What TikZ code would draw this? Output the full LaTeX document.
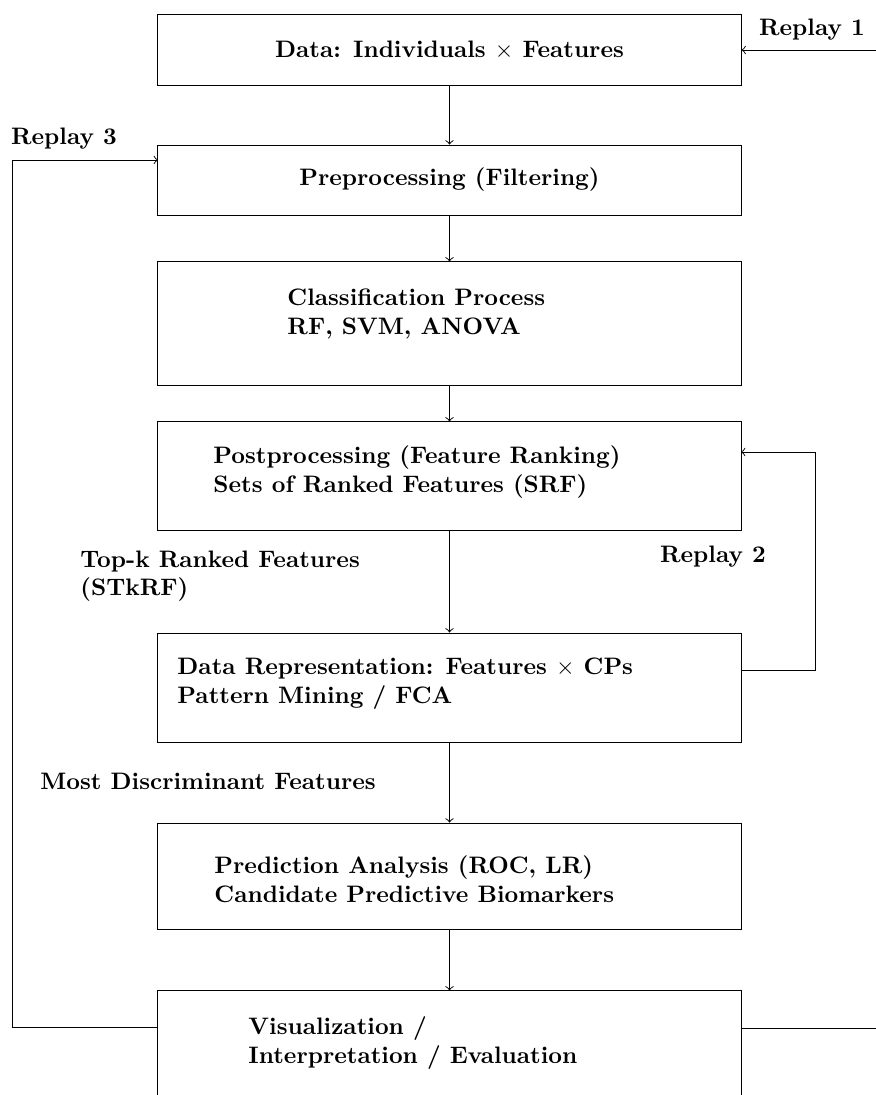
\documentclass[tikz,border=0pt]{standalone}
\usepackage{tikz}
\usetikzlibrary{arrows}

\begin{document}
\begin{tikzpicture}[x=0.42pt,y=-0.42pt,>=to,
    box/.style={draw=black,minimum width=244.9pt,inner sep=0pt,font=\bfseries},
    txt/.style={font=\bfseries,align=left,anchor=west,inner sep=0pt},
    lbl/.style={font=\bfseries,inner sep=0pt}]
    \useasboundingbox (0,0) rectangle (876,1095);
    \node[box,minimum height=30.2pt] (data) at (449.5,50) {Data: Individuals $\times$ Features};
    \node[box,minimum height=29.4pt] (pre) at (449.5,180) {Preprocessing (Filtering)};
    \node[box,minimum height=51.7pt] (cls) at (449.5,323.5) {};
    \node[box,minimum height=45.4pt] (post) at (449.5,476) {};
    \node[box,minimum height=45.8pt] (rep) at (449.5,687.5) {};
    \node[box,minimum height=44.9pt] (pred) at (449.5,876.5) {};
    \node[box,minimum height=45pt] (vis) at (449.5,1044.5) {};
    \node[txt] (clstxt) at (287,314) {Classification Process\\RF, SVM, ANOVA};
    \node[txt] (posttxt) at (213,472) {Postprocessing (Feature Ranking)\\Sets of Ranked Features (SRF)};
    \node[txt] (reptxt) at (177,683.5) {Data Representation: Features $\times$ CPs\\Pattern Mining / FCA};
    \node[txt] (predtxt) at (214,879) {Prediction Analysis (ROC, LR)\\Candidate Predictive Biomarkers};
    \node[txt] (vistxt) at (248,1043) {Visualization /\\Interpretation / Evaluation};
    \node[txt] (topk) at (80,576) {Top-k Ranked Features\\(STkRF)};
    \node[txt] (mdf) at (40,781) {Most Discriminant Features};
    \node[lbl] (r1) at (812,30) {Replay 1};
    \node[lbl] (r2) at (713,557) {Replay 2};
    \node[lbl] (r3) at (64,139) {Replay 3};
    \path[->](data) edge (pre);
    \path[->](pre) edge (cls);
    \path[->](cls) edge (post);
    \path[->](post) edge (rep);
    \path[->](rep) edge (pred);
    \path[->](pred) edge (vis);
    \coordinate (in1) at (876,50);
    \draw[->] (in1) -- (data.east);
    \coordinate (out2) at (741,670);
    \coordinate (in2) at (741,452);
    \draw[->] (out2) -- (815,670) -- (815,452) -- (in2);
    \coordinate (out3) at (158,1027);
    \coordinate (in3) at (158,160);
    \draw[->] (out3) -- (12,1027) -- (12,160) -- (in3);
    \coordinate (out4) at (741,1028);
    \coordinate (end4) at (876,1028);
    \draw (out4) -- (end4);
\end{tikzpicture}
\end{document}
